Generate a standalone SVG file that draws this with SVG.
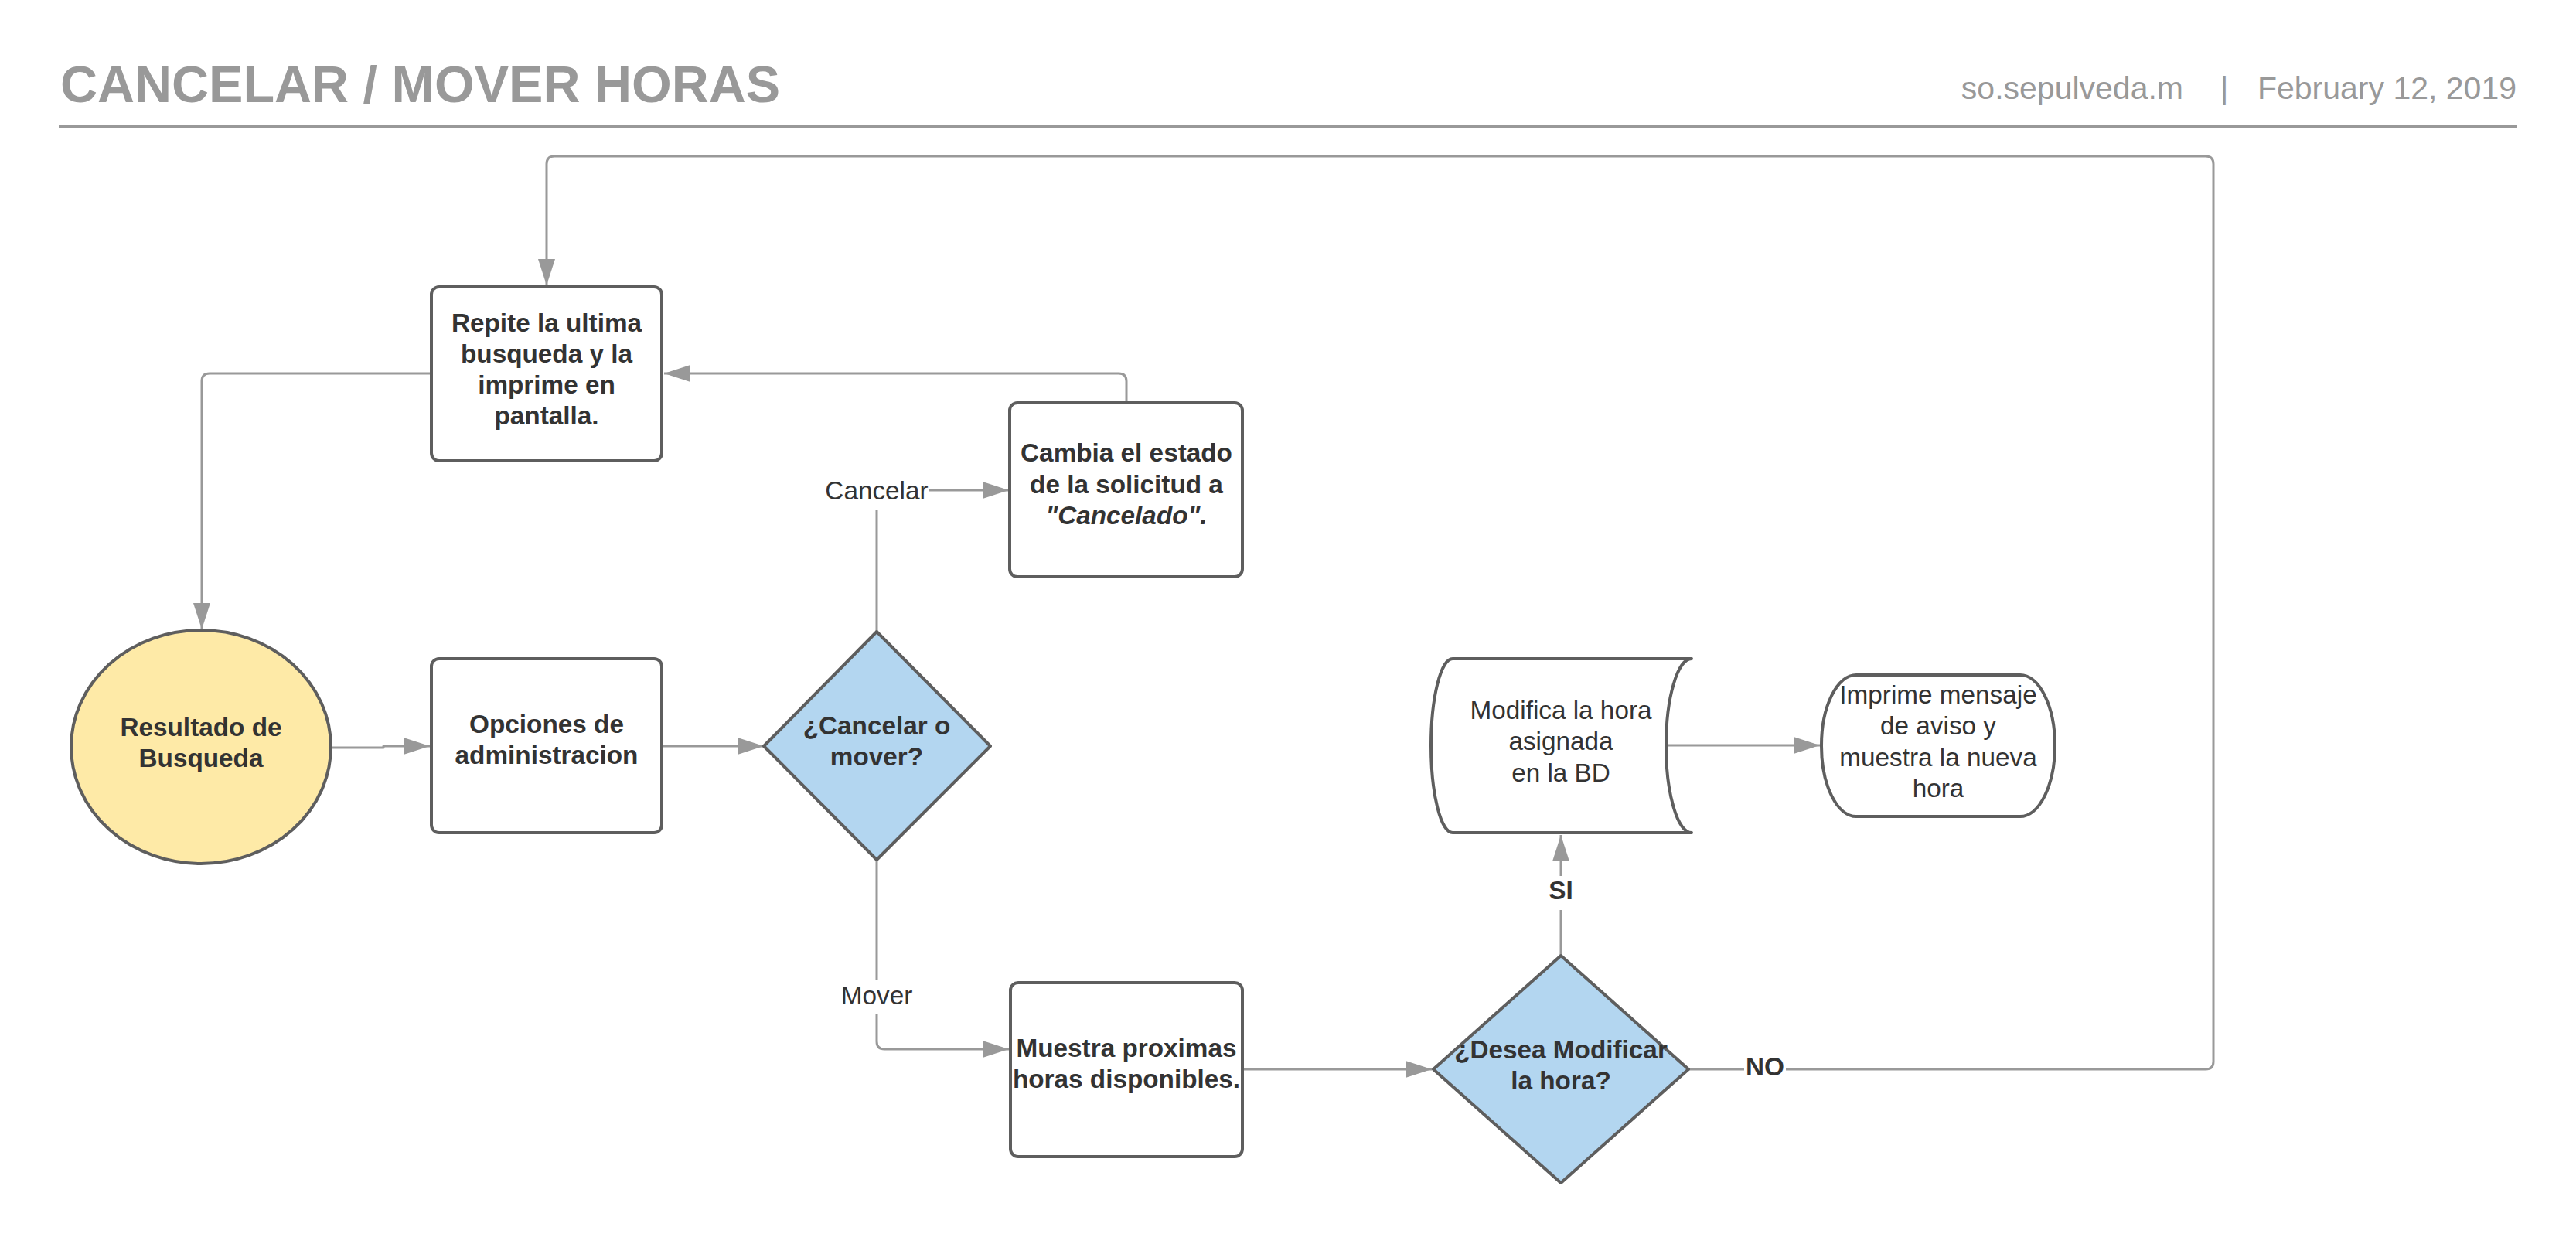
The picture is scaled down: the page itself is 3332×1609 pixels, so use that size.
<svg xmlns="http://www.w3.org/2000/svg" width="3332" height="1609" viewBox="0 0 3332 1609">
<style>
.node{fill:#ffffff;stroke:#5e5e5e;stroke-width:4;stroke-linejoin:round}
.dec{fill:#b3d6f0}
.start{fill:#feeaa7}
.conn{fill:none;stroke:#999999;stroke-width:3;stroke-linejoin:round}
.t{font-family:"Liberation Sans",Arial,sans-serif;font-size:33.3px;fill:#333333;text-anchor:middle}
.b{font-weight:bold}
.lbl{fill:#ffffff;stroke:none}
.hdr{font-family:"Liberation Sans",Arial,sans-serif;fill:#999999}
</style>
<defs>
<marker id="arr" markerUnits="userSpaceOnUse" markerWidth="34" markerHeight="22" refX="34" refY="11" orient="auto">
<path d="M0,0 L34,11 L0,22 Z" fill="#999999"/>
</marker>
</defs>
<rect width="3332" height="1609" fill="#ffffff"/>
<g id="header">
<text class="hdr" x="78" y="132" font-size="66.5" font-weight="bold">CANCELAR / MOVER HORAS</text>
<text class="hdr" x="2824" y="128" font-size="41" text-anchor="end">so.sepulveda.m</text>
<text class="hdr" x="2877" y="128" font-size="41" text-anchor="middle">|</text>
<text class="hdr" x="3255" y="128" font-size="41" text-anchor="end">February 12, 2019</text>
<line x1="76" y1="164" x2="3256" y2="164" stroke="#999999" stroke-width="4"/>
</g>
<g id="connectors">
<path class="conn" d="M428,967 H496 V965 H556" marker-end="url(#arr)"/>
<path class="conn" d="M858,965 H988" marker-end="url(#arr)"/>
<path class="conn" d="M1134,817 V634 H1305" marker-end="url(#arr)"/>
<path class="conn" d="M1457,521 V493 Q1457,483 1447,483 H859" marker-end="url(#arr)"/>
<path class="conn" d="M558,483 H271 Q261,483 261,493 V814" marker-end="url(#arr)"/>
<path class="conn" d="M1134,1112 V1347 Q1134,1357 1144,1357 H1305" marker-end="url(#arr)"/>
<path class="conn" d="M1607,1383 H1852" marker-end="url(#arr)"/>
<path class="conn" d="M2019,1235 V1080" marker-end="url(#arr)"/>
<path class="conn" d="M2155,964 H2354" marker-end="url(#arr)"/>
<path class="conn" d="M2184,1383 H2853 Q2863,1383 2863,1373 V212 Q2863,202 2853,202 H717 Q707,202 707,212 V369" marker-end="url(#arr)"/>
<rect class="lbl" x="1067" y="608" width="135" height="52"/>
<text class="t" x="1134" y="646">Cancelar</text>
<rect class="lbl" x="1086" y="1268" width="96" height="44"/>
<text class="t" x="1134" y="1299">Mover</text>
<rect class="lbl" x="1998" y="1133" width="42" height="44"/>
<text class="t b" x="2019" y="1163">SI</text>
<rect class="lbl" x="2256" y="1362" width="54" height="40"/>
<text class="t b" x="2283" y="1391">NO</text>
</g>
<g id="resultado">
<ellipse class="node start" cx="260" cy="966" rx="168" ry="151"/>
<text class="t b" x="260" y="952">Resultado de</text>
<text class="t b" x="260" y="992">Busqueda</text>
</g>
<g id="repite">
<rect class="node" x="558" y="371" width="298" height="225" rx="10"/>
<text class="t b" x="707" y="429">Repite la ultima</text>
<text class="t b" x="707" y="469">busqueda y la</text>
<text class="t b" x="707" y="509">imprime en</text>
<text class="t b" x="707" y="549">pantalla.</text>
</g>
<g id="opciones">
<rect class="node" x="558" y="852" width="298" height="225" rx="10"/>
<text class="t b" x="707" y="948">Opciones de</text>
<text class="t b" x="707" y="988">administracion</text>
</g>
<g id="decision1">
<polygon class="node dec" points="1134,817 1281,965 1134,1112 988,965"/>
<text class="t b" x="1134" y="950">¿Cancelar o</text>
<text class="t b" x="1134" y="990">mover?</text>
</g>
<g id="cambia">
<rect class="node" x="1306" y="521" width="301" height="225" rx="10"/>
<text class="t b" x="1457" y="597">Cambia el estado</text>
<text class="t b" x="1457" y="638">de la solicitud a</text>
<text class="t b" x="1457" y="678" font-style="italic">"Cancelado".</text>
</g>
<g id="muestra">
<rect class="node" x="1307" y="1271" width="300" height="225" rx="10"/>
<text class="t b" x="1457" y="1367">Muestra proximas</text>
<text class="t b" x="1457" y="1407">horas disponibles.</text>
</g>
<g id="decision2">
<polygon class="node dec" points="2019,1236 2184,1383 2019,1530 1854,1383"/>
<text class="t b" x="2019" y="1369">¿Desea Modificar</text>
<text class="t b" x="2019" y="1409">la hora?</text>
</g>
<g id="modifica">
<path class="node" d="M1879,852 H2188 A33,112.5 0 0 0 2188,1077 H1879 A28,112.5 0 0 1 1879,852 Z"/>
<text class="t" x="2019" y="930">Modifica la hora</text>
<text class="t" x="2019" y="970">asignada</text>
<text class="t" x="2019" y="1011">en la BD</text>
</g>
<g id="imprime">
<rect class="node" x="2356" y="873" width="302" height="183" rx="45" ry="91"/>
<text class="t" x="2507" y="910">Imprime mensaje</text>
<text class="t" x="2507" y="950">de aviso y</text>
<text class="t" x="2507" y="991">muestra la nueva</text>
<text class="t" x="2507" y="1031">hora</text>
</g>
</svg>
